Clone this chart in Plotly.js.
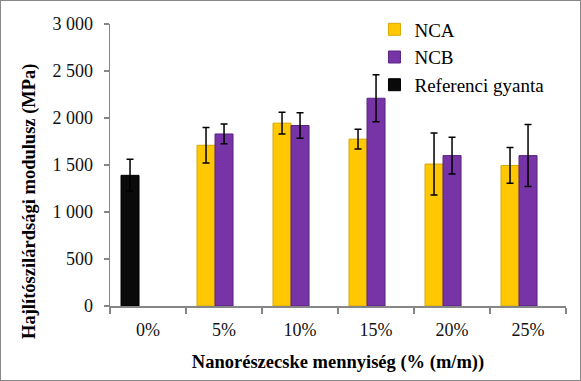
<!DOCTYPE html>
<html>
<head>
<meta charset="utf-8">
<script src="https://cdn.plot.ly/plotly-3.0.1.min.js"></script>
<style>
html,body{margin:0;padding:0;background:#fff;}
#chart{width:579px;height:379px;border:1px solid #888;}
</style>
</head>
<body>
<div id="chart"></div>
<script>
var categories = ['0%', '5%', '10%', '15%', '20%', '25%'];
var ncaCats = ['5%', '10%', '15%', '20%', '25%'];
var ncaValues = [1710, 1945, 1775, 1510, 1495];
var ncaErrors = [190, 115, 105, 330, 190];
var ncbValues = [1830, 1920, 2210, 1600, 1600];
var ncbErrors = [105, 135, 250, 195, 330];
var refCats = ['0%'];
var refValues = [1390];
var refErrors = [170];
var yTicks = [0, 500, 1000, 1500, 2000, 2500, 3000];

var barW = 0.237;
function errStyle(arr){
  return {type:'data', array:arr, visible:true, color:'#000', thickness:1.5, width:3.5};
}
var traces = [
  {type:'bar', name:'NCA', x:ncaCats, y:ncaValues, error_y:errStyle(ncaErrors),
   width:barW, offset:-0.355,
   marker:{color:'#FFC800', line:{color:'#D6A800', width:1}}},
  {type:'bar', name:'NCB', x:ncaCats, y:ncbValues, error_y:errStyle(ncbErrors),
   width:barW, offset:-0.118,
   marker:{color:'#7634A6', line:{color:'#5A2380', width:1}}},
  {type:'bar', name:'Referenci gyanta', x:refCats, y:refValues, error_y:errStyle(refErrors),
   width:barW, offset:-0.355,
   marker:{color:'#0A0A0A', line:{color:'#000', width:1}}}
];

var serif = 'Liberation Serif, Times New Roman, serif';
var layout = {
  width:579, height:379,
  margin:{l:109, r:14, t:23, b:74, pad:0, autoexpand:false},
  paper_bgcolor:'#fff', plot_bgcolor:'#fff',
  separators:', ',
  font:{family:serif, size:18, color:'#111'},
  showlegend:true,
  legend:{x:0.58, y:1.048, xanchor:'left', yanchor:'top', bgcolor:'rgba(0,0,0,0)',
          font:{family:serif, size:19, color:'#000'}, traceorder:'normal'},
  xaxis:{
    type:'category', categoryorder:'array', categoryarray:categories,
    range:[-0.5, 5.5],
    showline:true, linecolor:'#868686', linewidth:1.5,
    ticks:'outside', tickson:'boundaries', ticklen:6, tickcolor:'#868686', tickwidth:1.5,
    showgrid:false, zeroline:false, ticklabelstandoff:7,
    tickfont:{family:serif, size:18, color:'#111'},
    title:{text:'<b>Nanorészecske mennyiség (% (m/m))</b>', font:{family:serif, size:18.5, color:'#000'}, standoff:16}
  },
  yaxis:{
    range:[0, 3000], tickvals:yTicks, separatethousands:true, tickformat:',d',
    showline:true, linecolor:'#868686', linewidth:1.5,
    ticks:'outside', ticklen:5, tickcolor:'#868686', tickwidth:1.5,
    showgrid:false, zeroline:false, ticklabelstandoff:7,
    tickfont:{family:serif, size:18, color:'#111'}
  },
  annotations:[{
    text:'<b>Hajlítószilárdsági modulusz (MPa)</b>', textangle:-90,
    xref:'paper', yref:'paper', x:-0.178, y:0.372, xanchor:'center', yanchor:'middle',
    showarrow:false, font:{family:serif, size:18.5, color:'#000'}
  }]
};

Plotly.newPlot('chart', traces, layout, {displayModeBar:false, staticPlot:true});
</script>
</body>
</html>
